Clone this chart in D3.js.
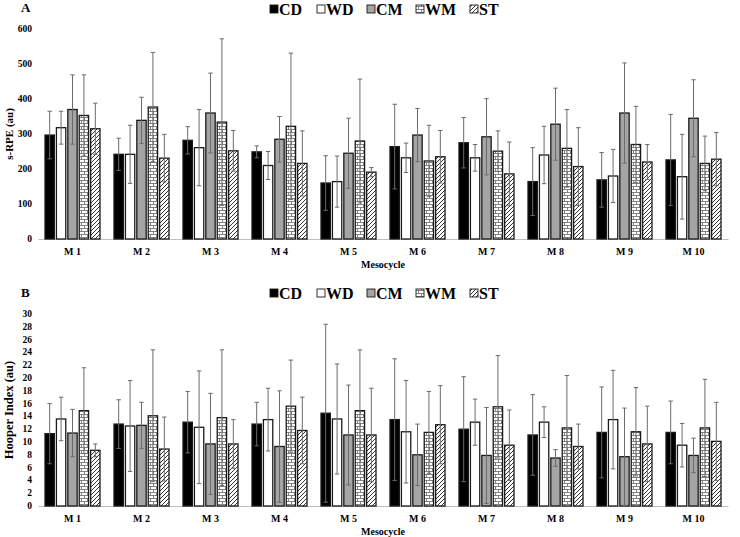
<!DOCTYPE html>
<html><head><meta charset="utf-8">
<script src="https://cdn.jsdelivr.net/npm/d3@7"></script>
<style>
body{margin:0;background:#fff;}
text{font-family:"Liberation Serif","Times New Roman",serif;font-weight:bold;fill:#000;}
</style></head>
<body><svg id="c" width="740" height="537"></svg>
<script>
const categories = ["M 1","M 2","M 3","M 4","M 5","M 6","M 7","M 8","M 9","M 10"];
const series = ["CD","WD","CM","WM","ST"];

// Panel A: s-RPE (au), mean and SD
const rpeCD = [297,242,282,249,160,264,275,164,169,226];
const rpeWD = [318,242,261,210,164,232,232,240,180,178];
const rpeCM = [370,339,360,285,245,297,292,328,360,345];
const rpeWM = [353,377,334,322,280,223,251,259,270,216];
const rpeST = [315,231,252,216,191,235,186,207,220,228];
const rpeCDsd = [68,46,39,17,78,121,72,97,78,130];
const rpeWDsd = [47,83,109,40,73,42,38,82,76,121];
const rpeCMsd = [99,66,114,65,100,76,109,103,143,110];
const rpeWMsd = [116,156,238,209,177,102,58,111,109,78];
const rpeSTsd = [73,68,58,93,13,75,91,111,50,76];
const rpeTicks = [0,100,200,300,400,500,600];

// Panel B: Hooper Index (au), mean and SD
const hiCD = [11.3,12.8,13.1,12.8,14.5,13.5,12.0,11.1,11.5,11.5];
const hiWD = [13.6,12.5,12.3,13.5,13.6,11.6,13.1,13.1,13.5,9.5];
const hiCM = [11.4,12.6,9.7,9.3,11.1,8.0,7.9,7.5,7.7,7.9];
const hiWM = [14.9,14.1,13.8,15.6,14.9,11.5,15.5,12.2,11.6,12.2];
const hiST = [8.7,8.9,9.7,11.8,11.1,12.7,9.5,9.3,9.7,10.1];
const hiCDsd = [4.7,3.8,4.8,3.4,13.9,9.5,8.2,6.3,7.1,4.9];
const hiWDsd = [3.4,7.1,8.8,4.9,8.6,8.0,3.6,2.4,7.7,3.4];
const hiCMsd = [3.7,3.6,7.9,8.7,7.8,4.8,7.5,1.3,7.6,2.7];
const hiWMsd = [6.7,10.3,10.6,7.2,9.5,6.4,8.0,8.2,6.9,7.6];
const hiSTsd = [1.0,5.0,3.8,5.2,7.3,6.1,5.5,3.5,5.9,6.1];
const hiTicks = [0,2,4,6,8,10,12,14,16,18,20,22,24,26,28,30];

const svg = d3.select("#c");
const defs = svg.append("defs");
// brick pattern for WM
const pb = defs.append("pattern").attr("id","brick").attr("patternUnits","userSpaceOnUse")
  .attr("width",6).attr("height",6);
pb.append("rect").attr("width",6).attr("height",6).attr("fill","#fff");
pb.append("path").attr("d","M0,0.5H6M0,3.5H6M1.5,0.5V3.5M4.5,3.5V6.5")
  .attr("stroke","#666").attr("stroke-width",0.8).attr("fill","none");
// diagonal hatch for ST
const ph = defs.append("pattern").attr("id","hatch").attr("patternUnits","userSpaceOnUse")
  .attr("width",4).attr("height",4);
ph.append("rect").attr("width",4).attr("height",4).attr("fill","#fff");
ph.append("path").attr("d","M-1,1L1,-1M0,4L4,0M3,5L5,3")
  .attr("stroke","#333").attr("stroke-width",1).attr("fill","none");

const fills = {CD:"#000", WD:"#fff", CM:"#a5a5a5", WM:"url(#brick)", ST:"url(#hatch)"};

function panel(opt){
  const g = svg.append("g");
  const x0 = d3.scaleBand().domain(categories).range([38,728]);
  const x1 = d3.scaleBand().domain(series).range([7, x0.bandwidth()-7]).paddingInner(0.18);
  const y = d3.scaleLinear().domain([0, opt.max]).range([opt.y0, opt.yTop]);

  // tick labels (no axis line)
  g.selectAll(".yt").data(opt.ticks).join("text")
    .attr("x",32).attr("y",d=>y(d)+3).attr("text-anchor","end")
    .attr("font-size",opt.tickFont).text(d=>d);

  // baseline axis
  const ax = g.append("g").attr("transform",`translate(0,${opt.y0})`)
    .call(d3.axisBottom(x0).tickSize(0).tickPadding(9));
  ax.select(".domain").attr("stroke","#bfbfbf").attr("stroke-width",1.2);
  ax.selectAll("text").attr("font-size",10).style("font-family","'Liberation Serif',serif").style("font-weight","bold");

  const rows = categories.map((c,i)=>({c, vals: series.map((s,k)=>({s, v: opt.means[k][i], sd: opt.sds[k][i]}))}));
  const grp = g.selectAll(".grp").data(rows).join("g")
    .attr("transform",d=>`translate(${x0(d.c)},0)`);
  grp.selectAll("rect").data(d=>d.vals).join("rect")
    .attr("x",d=>x1(d.s)).attr("width",x1.bandwidth())
    .attr("y",d=>y(d.v)).attr("height",d=>opt.y0-y(d.v))
    .attr("fill",d=>fills[d.s]).attr("stroke","#1a1a1a").attr("stroke-width",1.3);
  const eb = grp.selectAll(".eb").data(d=>d.vals).join("g").attr("class","eb");
  eb.append("line")
    .attr("x1",d=>x1(d.s)+x1.bandwidth()/2).attr("x2",d=>x1(d.s)+x1.bandwidth()/2)
    .attr("y1",d=>y(Math.max(0,d.v-d.sd))).attr("y2",d=>y(d.v+d.sd))
    .attr("stroke","#6b6b6b").attr("stroke-width",1);
  [d=>d.v+d.sd, d=>Math.max(0,d.v-d.sd)].forEach(fv=>{
    eb.append("line")
      .attr("x1",d=>x1(d.s)+x1.bandwidth()/2-2.2).attr("x2",d=>x1(d.s)+x1.bandwidth()/2+2.2)
      .attr("y1",d=>y(fv(d))).attr("y2",d=>y(fv(d)))
      .attr("stroke","#6b6b6b").attr("stroke-width",1);
  });

  // axis titles
  g.append("text").attr("x",383).attr("y",opt.y0+29).attr("text-anchor","middle")
    .attr("font-size",10).text("Mesocycle");
  g.append("text").attr("transform",`translate(${opt.ylx},${(opt.y0+opt.yTop)/2}) rotate(-90)`)
    .attr("text-anchor","middle").attr("font-size",opt.ylFont).text(opt.ylabel);
  // panel letter
  g.append("text").attr("x",21).attr("y",opt.letterY).attr("font-size",13).text(opt.letter);

  // legend
  const lg = g.append("g").attr("transform",`translate(270,${opt.legY})`);
  const lx = [0,47,97,146,200];
  series.forEach((s,k)=>{
    lg.append("rect").attr("x",lx[k]).attr("y",-10).attr("width",8).attr("height",8)
      .attr("fill",fills[s]).attr("stroke","#1a1a1a").attr("stroke-width",0.9);
    lg.append("text").attr("x",lx[k]+9).attr("y",0).attr("font-size",16).text(s);
  });
}

panel({means:[rpeCD,rpeWD,rpeCM,rpeWM,rpeST], sds:[rpeCDsd,rpeWDsd,rpeCMsd,rpeWMsd,rpeSTsd],
  max:600, y0:239, yTop:29, ticks:rpeTicks, tickFont:9.5, ylabel:"s-RPE (au)", ylx:13, ylFont:11,
  letter:"A", letterY:12, legY:15});
panel({means:[hiCD,hiWD,hiCM,hiWM,hiST], sds:[hiCDsd,hiWDsd,hiCMsd,hiWMsd,hiSTsd],
  max:30, y0:506, yTop:314, ticks:hiTicks, tickFont:9.5, ylabel:"Hooper Index (au)", ylx:13, ylFont:12.5,
  letter:"B", letterY:297, legY:299});
</script></body></html>
